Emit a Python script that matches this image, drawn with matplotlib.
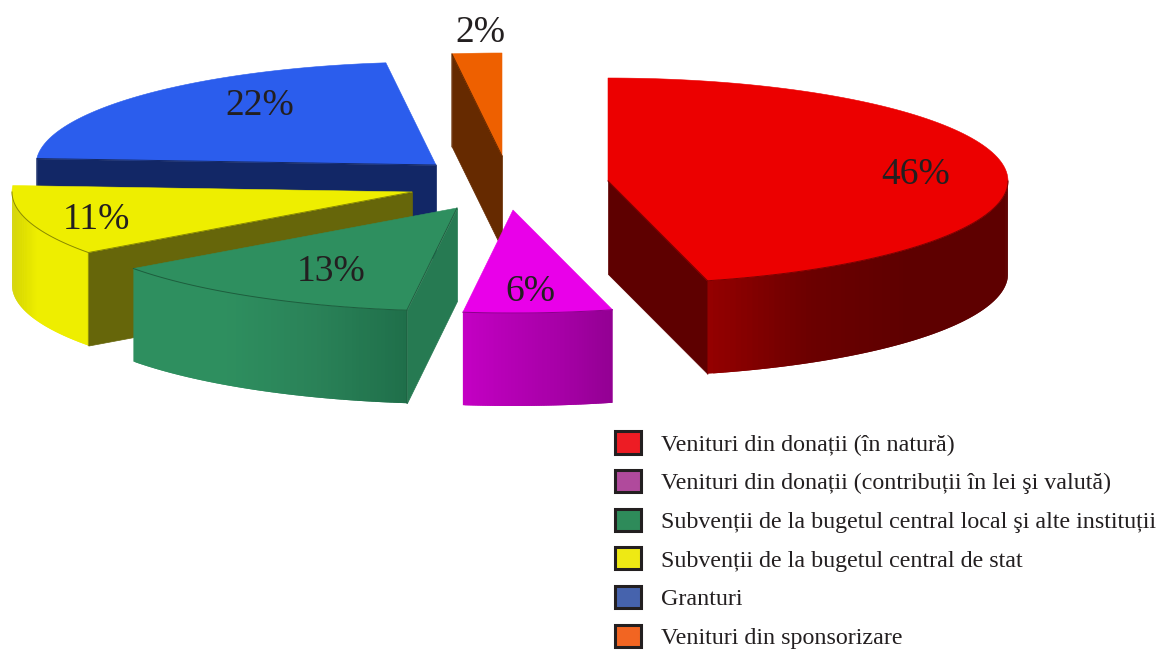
import numpy as np
import matplotlib
matplotlib.use('Agg')
import matplotlib.pyplot as plt
from matplotlib.collections import PolyCollection
from matplotlib.patches import Patch

# data
legendLabels = [
    'Venituri din donații (în natură)',
    'Venituri din donații (contribuții în lei şi valută)',
    'Subvenții de la bugetul central local şi alte instituții',
    'Subvenții de la bugetul central de stat',
    'Granturi',
    'Venituri din sponsorizare',
]
shares = [46, 6, 13, 11, 22, 2]

# styles, same order as the shares
topColors = ['#ec0000', '#e900e9', '#2e8f5f', '#eeee00', '#2b5ded', '#ee6000']
cutColors = ['#5e0000', '#930093', '#267a52', '#66660a', '#122766', '#662a00']
sideStops = [
    ['#950000', '#6c0000', '#5e0000', '#5e0000'],
    ['#c400c4', '#b400b4', '#a600a6', '#930093'],
    ['#2e8f5f', '#2e8f5f', '#2a8258', '#1f6f4a'],
    ['#d4d400', '#eeee00', '#eeee00', '#eeee00'],
    ['#122766', '#122766', '#122766', '#122766'],
    ['#662a00', '#662a00', '#662a00', '#662a00'],
]
rimColors = ['#7a0000', '#8a008a', '#1d5e3e', '#8a8a00', '#122766', '#662a00']
legendColors = ['#ed1c24', '#b04a9c', '#2e8b5a', '#eee914', '#4663ad', '#f26522']

# where each exploded slice has its tip, and where its label sits (pixels)
tips = [(608, 181), (513, 210), (457, 208), (412, 192), (436, 165), (502, 156)]
labelSpots = [(916, 175), (530, 292), (331, 272), (96, 220), (260, 106), (480, 33)]
drawOrder = [4, 3, 2, 5, 1, 0]

radiusX = 400
radiusY = 103
depth = 93
textColor = '#231f20'

plt.rcParams['font.family'] = ['Liberation Serif', 'DejaVu Serif']


def rimPoints(tip, angles):
    """Points on the ellipse rim, angles in degrees clockwise from north."""
    rad = np.radians(angles)
    return np.column_stack([tip[0] + radiusX * np.sin(rad), tip[1] - radiusY * np.cos(rad)])


def drawSideFace(ax, tip, startAngle, endAngle, stops):
    """The curved outer wall, only the part on the front half of the ellipse."""
    low = max(startAngle, 90)
    high = min(endAngle, 270)
    if low >= high:
        return
    rim = rimPoints(tip, np.linspace(low, high, 90))
    rim = rim[np.argsort(rim[:, 0])]
    xPart = (rim[:, 0] - rim[0, 0]) / (rim[-1, 0] - rim[0, 0])
    rgb = np.array([matplotlib.colors.to_rgb(c) for c in stops])
    stopAt = np.linspace(0, 1, len(stops))
    quads = []
    colors = []
    for i in range(len(rim) - 1):
        # each quad runs under the next one so no seams show between them
        a = rim[i]
        b = rim[min(i + 2, len(rim) - 1)]
        quads.append([a, b, b + (0, depth), a + (0, depth)])
        mid = (xPart[i] + xPart[i + 1]) / 2
        colors.append([np.interp(mid, stopAt, rgb[:, k]) for k in range(3)])
    ax.add_collection(PolyCollection(quads, facecolors=colors, linewidths=0))


def drawSlice(ax, idx, startAngle, endAngle):
    tip = np.array(tips[idx], dtype=float)
    # flat cut faces, only those turned towards the viewer
    cutEdges = []
    for angle, visible in ((startAngle, 180 < startAngle < 360), (endAngle, 0 < endAngle < 180)):
        if visible:
            edge = rimPoints(tip, np.array([angle]))[0]
            cutEdges.append(edge)
            face = [tip, edge, edge + (0, depth), tip + (0, depth)]
            ax.add_collection(PolyCollection([face], facecolors=cutColors[idx],
                                             edgecolors=cutColors[idx], linewidths=0.5))
    drawSideFace(ax, tip, startAngle, endAngle, sideStops[idx])
    arc = rimPoints(tip, np.linspace(startAngle, endAngle, 120))
    ax.fill(np.r_[tip[0], arc[:, 0]], np.r_[tip[1], arc[:, 1]], color=topColors[idx], lw=0.4)
    # thin dark lines where the faces meet
    low = max(startAngle, 90)
    high = min(endAngle, 270)
    if low < high:
        front = rimPoints(tip, np.linspace(low, high, 90))
        ax.plot(front[:, 0], front[:, 1], color=rimColors[idx], lw=0.7, zorder=1)
    for edge in cutEdges:
        ax.plot([tip[0], edge[0], edge[0]], [tip[1], edge[1], edge[1] + depth],
                color=rimColors[idx], lw=0.7, zorder=1)


fig = plt.figure(figsize=(11.62, 6.53), dpi=100)
ax = fig.add_axes([0, 0, 1, 1])
ax.set_xlim(0, 1162)
ax.set_ylim(653, 0)
ax.axis('off')

edges = np.r_[0, np.cumsum(shares)] / sum(shares) * 360
for i in drawOrder:
    drawSlice(ax, i, edges[i], edges[i + 1])

for spot, share in zip(labelSpots, shares):
    ax.text(spot[0], spot[1], f'{share}%', fontsize=27, color=textColor,
            ha='center', va='center', zorder=5)

handles = [Patch(facecolor=c, edgecolor=textColor, linewidth=2.2) for c in legendColors]
ax.legend(handles, legendLabels, loc='upper left', bbox_to_anchor=(610.6 / 1162, 1 - 426.5 / 653),
          frameon=False, fontsize=17.25, labelcolor=textColor, handlelength=1.05, handleheight=1.05,
          labelspacing=0.6, handletextpad=0.87, borderpad=0.2, borderaxespad=0)

fig.savefig('out.png', dpi=100)
